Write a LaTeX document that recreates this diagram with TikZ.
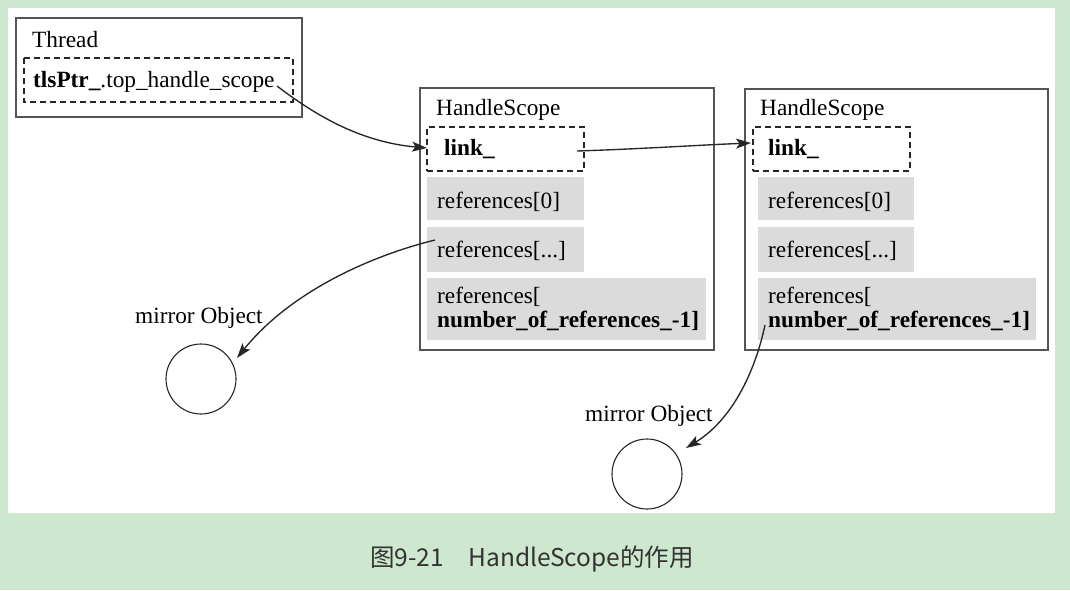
\documentclass[tikz,border=0pt]{standalone}
\usepackage{fontspec}
\setmainfont{Liberation Serif}
\newfontfamily\cjk{Noto Sans CJK SC}
\usetikzlibrary{arrows.meta}
\definecolor{bggreen}{HTML}{CDE8CF}
\definecolor{cellgray}{HTML}{DBDBDB}
\definecolor{framegray}{HTML}{555555}
\definecolor{captext}{HTML}{333333}
\tikzset{
  txt/.style={inner sep=0pt, anchor=base west, font=\fontsize{23.3}{27}\selectfont},
  bigbox/.style={draw=framegray, line width=1.3pt, fill=white},
  dashbox/.style={draw=black!85, line width=1.1pt, dash pattern=on 6pt off 4pt},
  cell/.style={fill=cellgray, draw=none},
  conn/.style={line width=1.35pt, draw=black!85, -{Stealth[length=15pt,width=10pt,inset=3.5pt]}},
  objcircle/.style={draw=black!85, line width=1.1pt, circle, minimum size=70pt, inner sep=0pt}
}
\begin{document}
\begin{tikzpicture}[x=1pt,y=-1pt]
\useasboundingbox (0,0) rectangle (1070,590);
% background
\fill[bggreen] (0,0) rectangle (1070,590);
\fill[white] (8,8) rectangle (1055,513);

% Thread box
\draw[bigbox] (16,18) rectangle (302,117);
\node[txt] (thr) at (32,47) {Thread};
\draw[dashbox] (24,58) rectangle (293,102);
\node[txt] (tp) at (33,87) {\textbf{tlsPtr\_}.top\_handle\_scope};

% HandleScope 1
\draw[bigbox] (420,88) rectangle (714,350);
\node[txt] (hs1) at (436,115) {HandleScope};
\node[dashbox, rectangle, minimum width=157pt, minimum height=44pt, inner sep=0pt] (l1) at (505.5,149) {};
\node[txt] (l1t) at (444,155) {\textbf{link\_}};
\fill[cell] (427,177) rectangle (584,220);
\node[txt] (a0) at (437,208) {references[0]};
\fill[cell] (427,227) rectangle (584,272);
\node[txt] (a1) at (437,257) {references[...]};
\fill[cell] (427,278) rectangle (706,340);
\node[txt] (a2) at (437,303) {references[};
\node[txt] (a2b) at (437,327) {\textbf{number\_of\_references\_-1]}};

% HandleScope 2
\draw[bigbox] (745,89) rectangle (1048,350);
\node[txt] (hs2) at (760,115) {HandleScope};
\node[dashbox, rectangle, minimum width=157pt, minimum height=44pt, inner sep=0pt] (l2) at (831.5,149) {};
\node[txt] (l2t) at (768,155) {\textbf{link\_}};
\fill[cell] (758,177) rectangle (914,220);
\node[txt] (b0) at (768,208) {references[0]};
\fill[cell] (758,227) rectangle (914,272);
\node[txt] (b1) at (768,257) {references[...]};
\fill[cell] (758,278) rectangle (1036,340);
\node[txt] (b2) at (768,303) {references[};
\node[txt] (b2b) at (768,327) {\textbf{number\_of\_references\_-1]}};

% mirror objects
\node[txt] (m1) at (135,323) {mirror Object};
\node[objcircle] (c1) at (201,379) {};
\node[txt] (m2) at (585,421) {mirror Object};
\node[objcircle] (c2) at (647,474) {};

% connector end points
\coordinate (s1) at (277,86);
\coordinate (e1) at (427,148);
\coordinate (s2) at (577,151);
\coordinate (e2) at (751,143);
\coordinate (s3) at (435,240);
\coordinate (e3) at (237,358);
\coordinate (s4) at (765,325);
\coordinate (e4) at (686,448);

% connectors
\draw[conn] (s1) .. controls (315,115) and (360,142) .. (e1);
\draw[conn] (s2) .. controls (640,149) and (700,145) .. (e2);
\draw[conn] (s3) .. controls (370,256) and (290,292) .. (e3);
\draw[conn] (s4) .. controls (755,372) and (732,420) .. (e4);

% caption
\node[inner sep=0pt, text=captext, font=\cjk\fontsize{24.5}{28}\selectfont] (cap) at (532,559) {图9-21\hspace{1em}HandleScope的作用};
\end{tikzpicture}
\end{document}
